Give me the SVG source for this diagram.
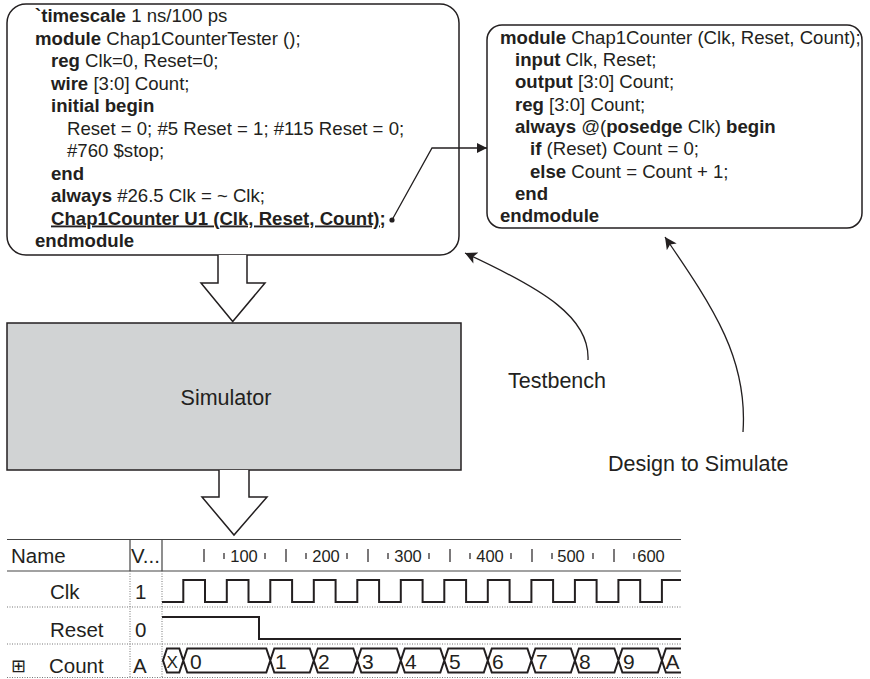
<svg xmlns="http://www.w3.org/2000/svg" width="870" height="679" viewBox="0 0 870 679">
<style>
text{font-family:"Liberation Sans",Arial,sans-serif;fill:#231f20}
.code{font-size:18.6px}
.b{font-weight:bold}
.box{fill:#fff;stroke:#231f20;stroke-width:1.5}
.hollow{fill:#fff;stroke:#231f20;stroke-width:1.5;stroke-linejoin:miter}
.conn{fill:none;stroke:#231f20;stroke-width:1.3}
.wave{fill:none;stroke:#231f20;stroke-width:2}
.grid{stroke:#444;stroke-width:1.2}
.dot{stroke:#777;stroke-width:1;stroke-dasharray:1 1.5}
.tick{stroke:#231f20;stroke-width:1.2}
.lbl{font-size:21.5px}
.wl{font-size:20.5px}
.tl{font-size:16.5px}
.bus{font-size:21px}
</style>
<defs>
<marker id="ah" viewBox="0 0 10 10" refX="10" refY="5" markerWidth="10" markerHeight="10" markerUnits="userSpaceOnUse" orient="auto"><path d="M0,0L10,5L0,10z" fill="#231f20"/></marker>
<marker id="ahl" viewBox="0 0 10 10" refX="10" refY="5" markerWidth="16" markerHeight="12" markerUnits="userSpaceOnUse" orient="auto"><path d="M0,0L10,5L0,10L2.5,5z" fill="#231f20"/></marker>
</defs>

<g id="tester">
<rect class="box" x="7" y="4" width="452" height="251" rx="19"/>
<text class="code">
<tspan x="35" y="22"><tspan class="b">`timescale</tspan> 1 ns/100 ps</tspan>
<tspan x="35" y="44.5"><tspan class="b">module</tspan> Chap1CounterTester ();</tspan>
<tspan x="51" y="67"><tspan class="b">reg</tspan> Clk=0, Reset=0;</tspan>
<tspan x="51" y="89.5"><tspan class="b">wire</tspan> [3:0] Count;</tspan>
<tspan x="51" y="112" class="b">initial begin</tspan>
<tspan x="67" y="134.5">Reset = 0; #5 Reset = 1; #115 Reset = 0;</tspan>
<tspan x="67" y="157">#760 $stop;</tspan>
<tspan x="51" y="179.5" class="b">end</tspan>
<tspan x="51" y="202"><tspan class="b">always</tspan> #26.5 Clk = ~ Clk;</tspan>
<tspan x="51" y="224.5" class="b" text-decoration="underline">Chap1Counter U1 (Clk, Reset, Count);</tspan>
<tspan x="35" y="247" class="b">endmodule</tspan>
</text>
</g>

<g id="counter">
<rect class="box" x="487" y="25" width="375" height="203" rx="15"/>
<text class="code">
<tspan x="500" y="43.5"><tspan class="b">module</tspan> Chap1Counter (Clk, Reset, Count);</tspan>
<tspan x="515" y="66"><tspan class="b">input</tspan> Clk, Reset;</tspan>
<tspan x="515" y="88"><tspan class="b">output</tspan> [3:0] Count;</tspan>
<tspan x="515" y="110.5"><tspan class="b">reg</tspan> [3:0] Count;</tspan>
<tspan x="515" y="133"><tspan class="b">always</tspan> @(<tspan class="b">posedge</tspan> Clk) <tspan class="b">begin</tspan></tspan>
<tspan x="530" y="155"><tspan class="b">if</tspan> (Reset) Count = 0;</tspan>
<tspan x="530" y="177.5"><tspan class="b">else</tspan> Count = Count + 1;</tspan>
<tspan x="515" y="200" class="b">end</tspan>
<tspan x="500" y="222" class="b">endmodule</tspan>
</text>
</g>

<g id="simulator">
<rect x="7" y="323" width="454" height="147" fill="#d1d3d4" stroke="#231f20" stroke-width="1.5"/>
<text class="lbl" x="226" y="404.5" text-anchor="middle">Simulator</text>
</g>

<g id="testbench-label"><text class="lbl" x="508" y="388">Testbench</text></g>
<g id="design-label"><text class="lbl" x="608" y="471">Design to Simulate</text></g>

<g id="connectors">
<path class="hollow" d="M218,255V283H201L232.7,321.5L265,283H247V255"/>
<path class="hollow" d="M219,470V497H202L234,535L267,497H249V470"/>
<circle cx="392" cy="220" r="2.6" fill="#231f20"/>
<path class="conn" d="M392,220L432,148H487" marker-end="url(#ah)"/>
<path class="conn" d="M588,360C590,318 545,290 465,253" marker-end="url(#ahl)"/>
<path class="conn" d="M743,432C748,360 715,310 665,237" marker-end="url(#ahl)"/>
</g>

<g id="waveform">
<line class="grid" x1="7" y1="539.5" x2="681" y2="539.5"/>
<line class="grid" x1="7" y1="571" x2="681" y2="571"/>
<line class="grid" x1="130" y1="539.5" x2="130" y2="571"/>
<line class="grid" x1="162" y1="539.5" x2="162" y2="571"/>
<line class="dot" x1="130" y1="571" x2="130" y2="678"/>
<line class="dot" x1="162" y1="571" x2="162" y2="678"/>
<line class="dot" x1="7" y1="607" x2="681" y2="607"/>
<line class="dot" x1="7" y1="644" x2="681" y2="644"/>
<line class="dot" x1="7" y1="677.5" x2="681" y2="677.5"/>
<text class="wl" x="11" y="562.5">Name</text>
<text class="wl" x="131" y="562.5">V...</text>
<text class="wl" x="50" y="599">Clk</text>
<text class="wl" x="135" y="599">1</text>
<text class="wl" x="50" y="636.5">Reset</text>
<text class="wl" x="135" y="636.5">0</text>
<text x="11" y="672" style="font-family:'DejaVu Sans',sans-serif;font-size:18px">⊞</text>
<text class="wl" x="49" y="673">Count</text>
<text class="wl" x="133" y="673">A</text>
<g class="tick">
<line x1="204" y1="549" x2="204" y2="562"/><line x1="286" y1="549" x2="286" y2="562"/><line x1="368" y1="549" x2="368" y2="562"/><line x1="450" y1="549" x2="450" y2="562"/><line x1="532" y1="549" x2="532" y2="562"/><line x1="614" y1="549" x2="614" y2="562"/>
<line x1="224" y1="553" x2="224" y2="559"/><line x1="265" y1="553" x2="265" y2="559"/><line x1="306" y1="553" x2="306" y2="559"/><line x1="347" y1="553" x2="347" y2="559"/><line x1="388" y1="553" x2="388" y2="559"/><line x1="429" y1="553" x2="429" y2="559"/><line x1="470" y1="553" x2="470" y2="559"/><line x1="511" y1="553" x2="511" y2="559"/><line x1="552" y1="553" x2="552" y2="559"/><line x1="593" y1="553" x2="593" y2="559"/><line x1="634" y1="553" x2="634" y2="559"/>
</g>
<text class="tl" x="244" y="561.5" text-anchor="middle">100</text>
<text class="tl" x="326" y="561.5" text-anchor="middle">200</text>
<text class="tl" x="408" y="561.5" text-anchor="middle">300</text>
<text class="tl" x="490" y="561.5" text-anchor="middle">400</text>
<text class="tl" x="571" y="561.5" text-anchor="middle">500</text>
<text class="tl" x="651" y="561.5" text-anchor="middle">600</text>
<path class="wave" d="M162,602H183.3V580H205V602H226.8V580H248.5V602H270.3V580H292.1V602H313.8V580H335.6V602H357.3V580H379.1V602H400.8V580H422.6V602H444.3V580H466.1V602H487.8V580H509.6V602H531.4V580H553.1V602H574.9V580H596.6V602H618.4V580H640.2V602H661.9V580H681"/>
<path class="wave" d="M162,617H259V639H681"/>
<path class="wave" stroke-width="1.6" d="M163,660.5L167,648.5H179.3L183.3,660.5L179.3,672.5H167Z M183.3,660.5L187.3,648.5H266.3L270.3,660.5L266.3,672.5H187.3Z M270.3,660.5L274.3,648.5H309.8L313.8,660.5L309.8,672.5H274.3Z M313.8,660.5L317.8,648.5H353.3L357.3,660.5L353.3,672.5H317.8Z M357.3,660.5L361.3,648.5H396.8L400.8,660.5L396.8,672.5H361.3Z M400.8,660.5L404.8,648.5H440.3L444.3,660.5L440.3,672.5H404.8Z M444.3,660.5L448.3,648.5H483.8L487.8,660.5L483.8,672.5H448.3Z M487.8,660.5L491.8,648.5H527.4L531.4,660.5L527.4,672.5H491.8Z M531.4,660.5L535.4,648.5H570.9L574.9,660.5L570.9,672.5H535.4Z M574.9,660.5L578.9,648.5H614.4L618.4,660.5L614.4,672.5H578.9Z M618.4,660.5L622.4,648.5H657.9L661.9,660.5L657.9,672.5H622.4Z M681,648.5H665.9L661.9,660.5L665.9,672.5H681"/>
<g class="bus">
<text x="166.5" y="668" font-size="17">X</text>
<text x="190" y="668.5">0</text>
<text x="275" y="668.5">1</text>
<text x="318" y="668.5">2</text>
<text x="362" y="668.5">3</text>
<text x="405" y="668.5">4</text>
<text x="449" y="668.5">5</text>
<text x="492" y="668.5">6</text>
<text x="536" y="668.5">7</text>
<text x="579" y="668.5">8</text>
<text x="623" y="668.5">9</text>
<text x="665.5" y="668.5">A</text>
</g>
</g>
</svg>
